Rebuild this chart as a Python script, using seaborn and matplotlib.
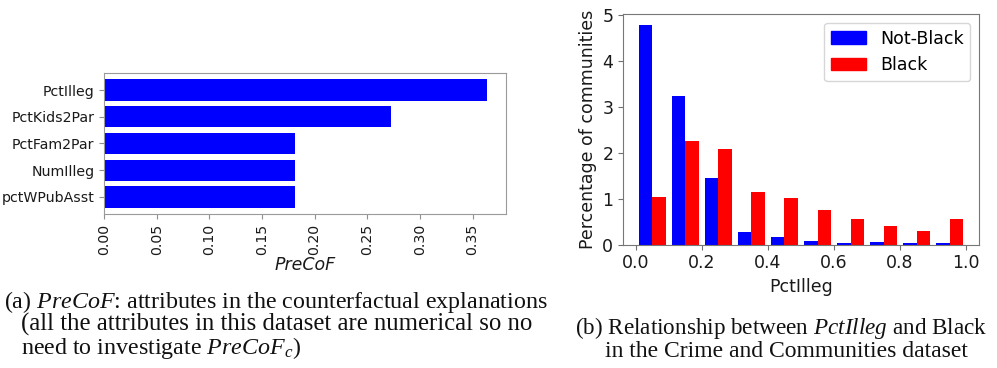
import numpy as np
import pandas as pd
import matplotlib
matplotlib.use("Agg")
import matplotlib.pyplot as plt
from matplotlib.patches import Patch
import seaborn as sns

# ---- data: left panel (PreCoF) ----
attributes = ["PctIlleg", "PctKids2Par", "PctFam2Par", "NumIlleg", "pctWPubAsst"]
precof = [0.3636, 0.2727, 0.1818, 0.1818, 0.1818]

# ---- data: right panel (density histogram of PctIlleg) ----
bin_edges = [0.0, 0.1, 0.2, 0.3, 0.4, 0.5, 0.6, 0.7, 0.8, 0.9, 1.0]
bin_centers = [0.05, 0.15, 0.25, 0.35, 0.45, 0.55, 0.65, 0.75, 0.85, 0.95]
not_black = [4.78, 3.24, 1.46, 0.27, 0.17, 0.085, 0.04, 0.06, 0.04, 0.04]
black = [1.04, 2.25, 2.08, 1.14, 1.02, 0.75, 0.56, 0.40, 0.29, 0.56]
groups = ["Not-Black", "Black"]
xticks_r = [0.0, 0.2, 0.4, 0.6, 0.8, 1.0]

plt.rcParams["mathtext.fontset"] = "custom"
plt.rcParams["mathtext.rm"] = "Liberation Serif"
plt.rcParams["mathtext.it"] = "Liberation Serif:italic"
plt.rcParams["mathtext.bf"] = "Liberation Serif:bold"

W, H = 997, 368
fig = plt.figure(figsize=(W / 100, H / 100), dpi=100)
ax1 = fig.add_axes([104 / W, 1 - 214 / H, 402 / W, 141 / H])
ax2 = fig.add_axes([623 / W, 1 - 244.7 / H, 356 / W, 230.7 / H])

# ---- left: horizontal bar chart ----
df1 = pd.DataFrame({"attr": attributes, "val": precof})
sns.barplot(data=df1, x="val", y="attr", orient="h", color="blue",
            saturation=1, width=0.8, ax=ax1, linewidth=0)
ax1.set_xlim(0, max(precof) * 1.05)
ax1.set_ylim(len(attributes) - 1 + 0.4 + 0.24, -0.4 - 0.24)
ax1.set_xticks([0.0, 0.05, 0.10, 0.15, 0.20, 0.25, 0.30, 0.35])
ax1.set_xticklabels([f"{t:.2f}" for t in ax1.get_xticks()], rotation=90)
ax1.set_ylabel("")
ax1.set_xlabel("PreCoF", fontsize=12.5, fontstyle="italic", color="#1a1a1a", labelpad=1)
ax1.tick_params(labelsize=10.2, colors="#1a1a1a")
ax1.tick_params(color="#909090")
for s in ax1.spines.values():
    s.set_color("#9a9a9a")

# ---- right: dodged histogram ----
df2 = pd.DataFrame({
    "PctIlleg": bin_centers * 2,
    "density": not_black + black,
    "group": [groups[0]] * len(bin_centers) + [groups[1]] * len(bin_centers),
})
sns.histplot(data=df2, x="PctIlleg", weights="density", hue="group",
             hue_order=groups, palette={"Not-Black": "blue", "Black": "red"},
             bins=bin_edges, multiple="dodge", shrink=0.8, alpha=1,
             linewidth=0, legend=False, ax=ax2)
ax2.set_xticks(xticks_r)
ax2.set_xticklabels([f"{t:.1f}" for t in xticks_r])
ax2.set_yticks([0, 1, 2, 3, 4, 5])
ax2.set_ylim(0, max(not_black) * 1.05)
ax2.set_xlabel("PctIlleg", fontsize=12.5, color="#1a1a1a")
ax2.set_ylabel("Percentage of communities", fontsize=12.5, color="#1a1a1a")
ax2.tick_params(labelsize=12.5, colors="#1a1a1a")
ax2.tick_params(color="#707070")
for s in ax2.spines.values():
    s.set_color("#777777")
handles = [Patch(color="blue", label="Not-Black"), Patch(color="red", label="Black")]
ax2.legend(handles=handles, loc="upper right", fontsize=12.5)

# ---- captions ----
cap = dict(family="Liberation Serif", color="#111111", va="baseline")
fig.text(4 / W, 1 - 308 / H, r"(a) $\mathit{PreCoF}$: attributes in the counterfactual explanations",
         fontsize=17.3, **cap)
fig.text(21 / W, 1 - 331 / H, "(all the attributes in this dataset are numerical so no",
         fontsize=17.8, **cap)
fig.text(21 / W, 1 - 354 / H, r"need to investigate $\mathit{PreCoF}_c$)", fontsize=17.3, **cap)
fig.text(575 / W, 1 - 334 / H, r"(b) Relationship between $\mathit{PctIlleg}$ and Black",
         fontsize=16.7, **cap)
fig.text(605 / W, 1 - 357 / H, "in the Crime and Communities dataset", fontsize=17.0, **cap)

fig.savefig("out.png", dpi=100)
